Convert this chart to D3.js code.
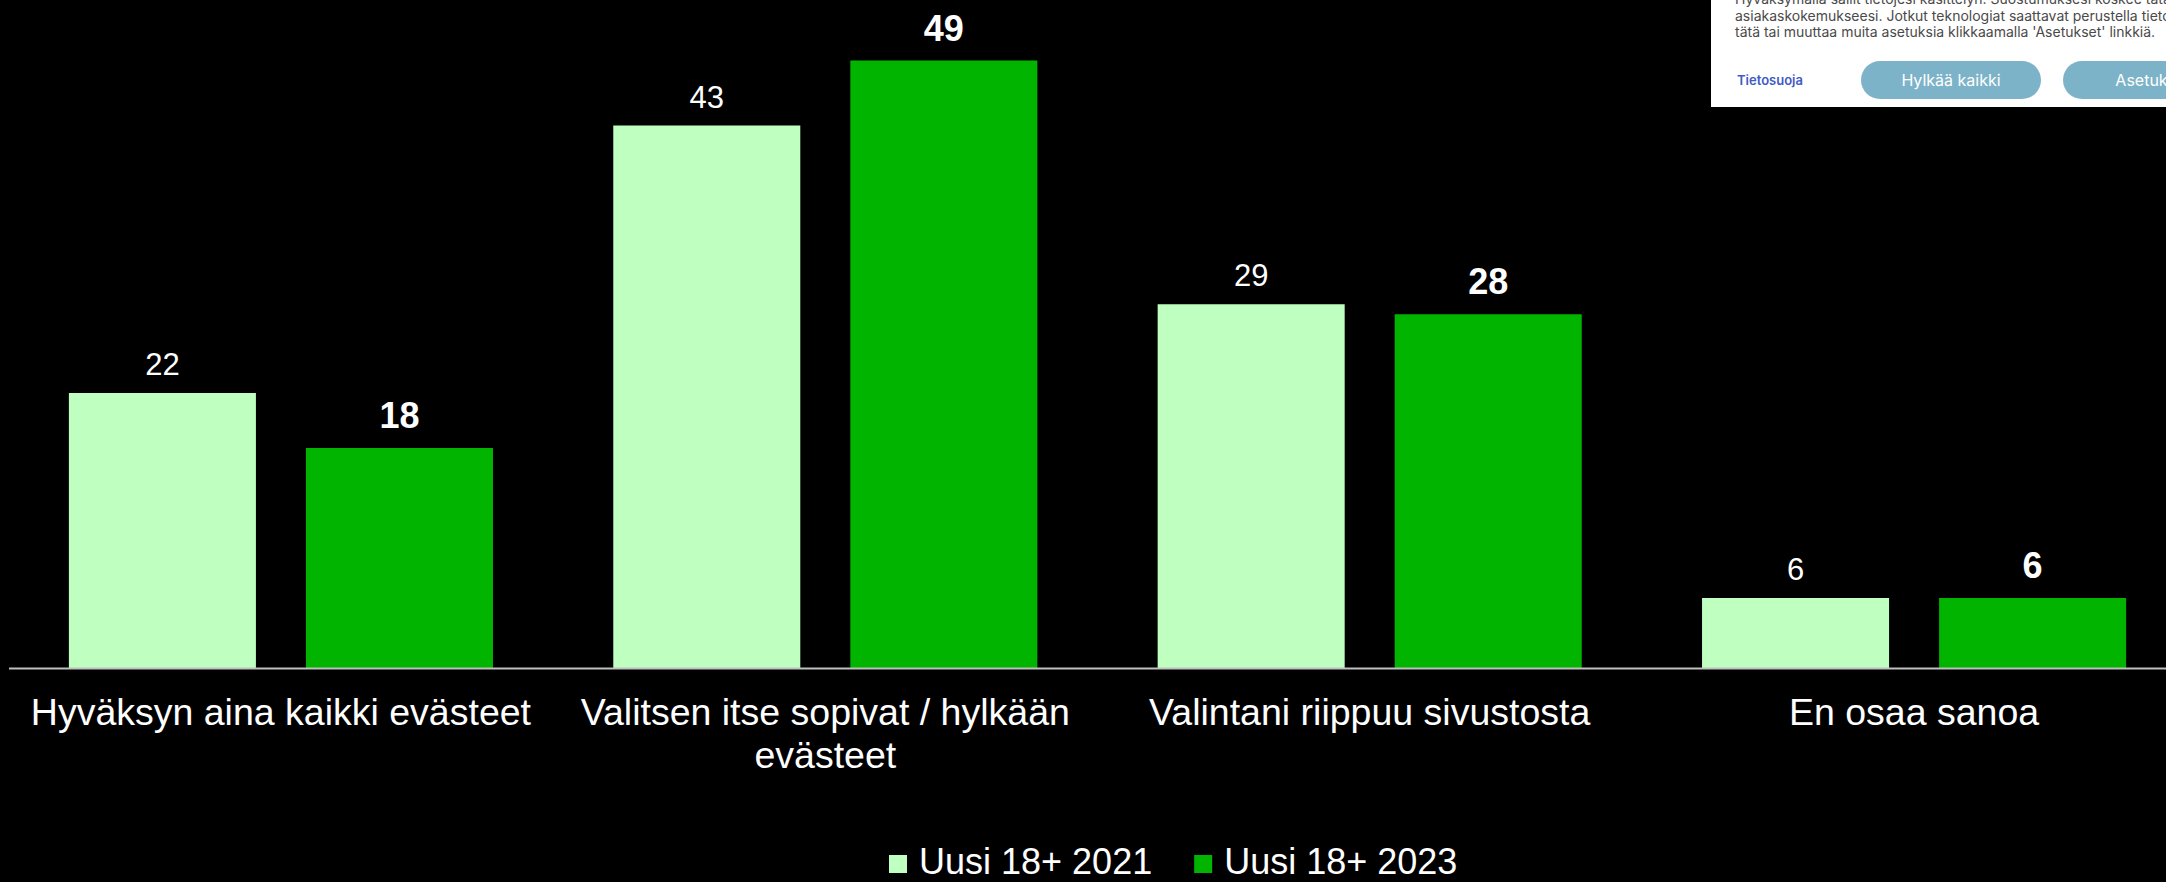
<!DOCTYPE html>
<html>
<head>
<meta charset="utf-8">
<script src="https://cdn.jsdelivr.net/npm/d3@7"></script>
<style>
    html, body { margin: 0; padding: 0; background: #000; }
    svg { display: block; }
</style>
</head>
<body>
<svg id="chart"></svg>
<script>
// data
const categories = [
    "Hyväksyn aina kaikki evästeet",
    "Valitsen itse sopivat / hylkään evästeet",
    "Valintani riippuu sivustosta",
    "En osaa sanoa"
];
const series = ["Uusi 18+ 2021", "Uusi 18+ 2023"];
const values2021 = [22.0, 43.4, 29.1, 5.6];
const values2023 = [17.6, 48.6, 28.3, 5.6];

const bannerLines = [
    "Hyväksymällä sallit tietojesi käsittelyn. Suostumuksesi koskee tätä palvelua ja sen kautta",
    "asiakaskokemukseesi. Jotkut teknologiat saattavat perustella tietojen käsittelyn",
    "tätä tai muuttaa muita asetuksia klikkaamalla 'Asetukset' linkkiä."
];

const W = 2166, H = 882;
const margin = {top: 43, left: 9, baseline: 668};

const colors = d3.scaleOrdinal().domain(series).range(["#bfffbf", "#00b400"]);

const rows = categories.map(function (c, i) {
    return {cat: c, vals: [
        {key: series[0], v: values2021[i]},
        {key: series[1], v: values2023[i]}
    ]};
});

const svg = d3.select("#chart")
    .attr("width", W)
    .attr("height", H);

svg.append("rect").attr("width", W).attr("height", H).attr("fill", "#000");

const x0 = d3.scaleBand()
    .domain(categories)
    .range([margin.left, 2186])
    .paddingInner(0.221)
    .paddingOuter(0.11);

const x1 = d3.scaleBand()
    .domain(series)
    .range([0, x0.bandwidth()])
    .paddingInner(0.211);

const y = d3.scaleLinear()
    .domain([0, 50])
    .range([margin.baseline, margin.top]);

// bars
const groups = svg.selectAll("g.group")
    .data(rows)
    .enter()
    .append("g")
    .attr("class", "group")
    .attr("transform", function (d) { return "translate(" + x0(d.cat) + ",0)"; });

groups.selectAll("rect")
    .data(function (d) { return d.vals; })
    .enter()
    .append("rect")
    .attr("x", function (d) { return x1(d.key); })
    .attr("y", function (d) { return y(d.v); })
    .attr("width", x1.bandwidth())
    .attr("height", function (d) { return y(0) - y(d.v); })
    .attr("fill", function (d) { return colors(d.key); });

// value labels
groups.selectAll("text.val")
    .data(function (d) { return d.vals; })
    .enter()
    .append("text")
    .attr("class", "val")
    .attr("x", function (d) { return x1(d.key) + x1.bandwidth() / 2; })
    .attr("y", function (d, i) { return y(d.v) - (i === 0 ? 18 : 20); })
    .attr("text-anchor", "middle")
    .attr("fill", "#fff")
    .style("font-family", "'Liberation Sans', Arial, sans-serif")
    .style("font-size", function (d, i) { return i === 0 ? "31px" : "36px"; })
    .style("font-weight", function (d, i) { return i === 0 ? "normal" : "bold"; })
    .text(function (d) { return d3.format(".0f")(d.v); });

// baseline
svg.append("line")
    .attr("x1", margin.left)
    .attr("x2", W)
    .attr("y1", y(0) + 0.5)
    .attr("y2", y(0) + 0.5)
    .attr("stroke", "#bfbfbf")
    .attr("stroke-width", 2);

// category labels, wrapped
const catLabels = svg.selectAll("text.cat")
    .data(categories)
    .enter()
    .append("text")
    .attr("class", "cat")
    .attr("x", function (d) { return x0(d) + x0.bandwidth() / 2; })
    .attr("y", 725)
    .attr("text-anchor", "middle")
    .attr("fill", "#fff")
    .style("font-family", "'Liberation Sans', Arial, sans-serif")
    .style("font-size", "37.5px")
    .text(function (d) { return d; });

function wrap(sel, maxW) {
    sel.each(function () {
        const t = d3.select(this);
        const words = t.text().split(/\s+/);
        const cx = t.attr("x");
        t.text(null);
        let line = [];
        let tspan = t.append("tspan").attr("x", cx).attr("dy", 0);
        words.forEach(function (w) {
            line.push(w);
            tspan.text(line.join(" "));
            if (tspan.node().getComputedTextLength() > maxW && line.length > 1) {
                line.pop();
                tspan.text(line.join(" "));
                line = [w];
                tspan = t.append("tspan").attr("x", cx).attr("dy", 43).text(w);
            }
        });
    });
}
catLabels.call(wrap, x0.step() - 20);

// legend
const legend = svg.append("g").attr("class", "legend");
let lx = 889;
series.forEach(function (s) {
    legend.append("rect")
        .attr("x", lx)
        .attr("y", 855)
        .attr("width", 18)
        .attr("height", 18)
        .attr("fill", colors(s));
    const t = legend.append("text")
        .attr("x", lx + 30)
        .attr("y", 874)
        .attr("fill", "#fff")
        .style("font-family", "'Liberation Sans', Arial, sans-serif")
        .style("font-size", "36px")
        .text(s);
    lx = lx + 30 + t.node().getComputedTextLength() + 42;
});

// cookie banner overlapping the corner
const banner = svg.append("g").attr("class", "banner");
banner.append("rect")
    .attr("x", 1711).attr("y", 0)
    .attr("width", W - 1711).attr("height", 107)
    .attr("fill", "#fff");

banner.selectAll("text.bline")
    .data(bannerLines)
    .enter()
    .append("text")
    .attr("class", "bline")
    .attr("x", 1735)
    .attr("y", function (d, i) { return 4 + i * 16.7; })
    .attr("fill", "#4a4a4a")
    .style("font-family", "Inter, 'Open Sans', sans-serif")
    .style("font-size", "14px")
    .text(function (d) { return d; });

banner.append("text")
    .attr("x", 1737).attr("y", 85)
    .attr("fill", "#3f5bc4")
    .style("font-family", "Inter, 'Open Sans', sans-serif")
    .style("font-size", "13px")
    .style("font-weight", "600")
    .text("Tietosuoja");

const buttons = [
    {label: "Hylkää kaikki", x: 1861, w: 180},
    {label: "Asetukset", x: 2063, w: 180}
];
buttons.forEach(function (b) {
    banner.append("rect")
        .attr("x", b.x).attr("y", 61)
        .attr("width", b.w).attr("height", 38)
        .attr("rx", 19).attr("ry", 19)
        .attr("fill", "#7db3c8");
    banner.append("text")
        .attr("x", b.x + b.w / 2).attr("y", 86)
        .attr("text-anchor", "middle")
        .attr("fill", "#fff")
        .style("font-family", "Inter, 'Open Sans', sans-serif")
        .style("font-size", "16px")
        .text(b.label);
});
</script>
</body>
</html>
